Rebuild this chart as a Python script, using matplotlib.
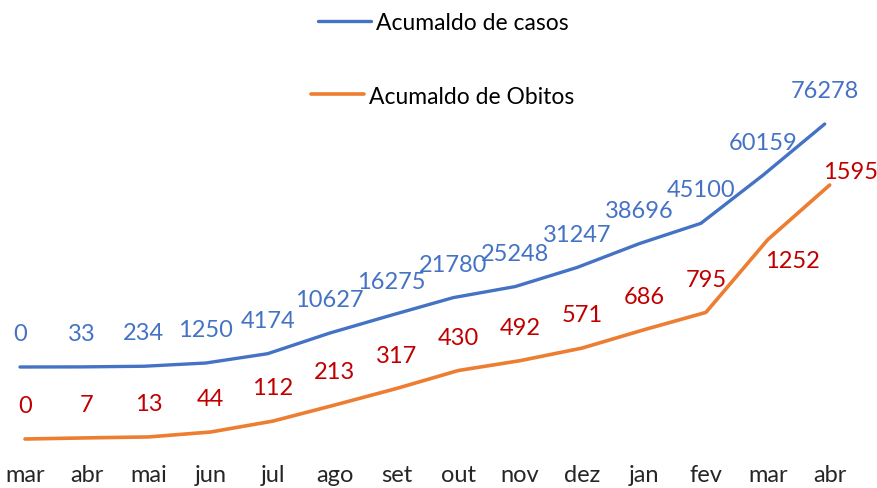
import matplotlib
matplotlib.use("Agg")
import matplotlib.pyplot as plt
import numpy as np

plt.rcParams['font.family'] = ['Lato', 'DejaVu Sans']

months = ["mar", "abr", "mai", "jun", "jul", "ago", "set", "out", "nov",
          "dez", "jan", "fev", "mar", "abr"]
casos = [0, 33, 234, 1250, 4174, 10627, 16275, 21780, 25248, 31247,
         38696, 45100, 60159, 76278]
obitos = [0, 7, 13, 44, 112, 213, 317, 430, 492, 571, 686, 795, 1252, 1595]

W, H, DPI = 878, 489, 100
BLUE = "#4472C4"
ORANGE = "#ED7D31"
RED = "#C00000"

fig = plt.figure(figsize=(W / DPI, H / DPI), dpi=DPI)

# both series share the plot area but each has its own (hidden) value axis
bottom_px = 455
pos = [0, 1 - bottom_px / H, 1, bottom_px / H]
ax_o = fig.add_axes(pos)
ax_c = fig.add_axes(pos)
ax_c.patch.set_alpha(0)

x = np.arange(len(months))
step = 61.9

# orange: first point at 25px, zero at 440px, 1595 at 186px
ax_o.set_xlim(-25 / step, (W - 25) / step)
ax_o.set_ylim(-(bottom_px - 440) / 254 * 1595, 440 / 254 * 1595)
# blue: first point at 20px, zero at 368px, 76278 at 125px
ax_c.set_xlim(-20 / step, (W - 20) / step)
ax_c.set_ylim(-(bottom_px - 368) / 243 * 76278, 368 / 243 * 76278)

l_o, = ax_o.plot(x, obitos, color=ORANGE, lw=2.6, solid_capstyle="round")
l_c, = ax_c.plot(x, casos, color=BLUE, lw=2.4, solid_capstyle="round")

fs = 17
for i, v in enumerate(casos):
    ax_c.annotate(str(v), (i, v), xytext=(0, 24), textcoords="offset points",
                  ha="center", va="center", color=BLUE, fontsize=fs)
for i, v in enumerate(obitos):
    off = (0, 24)
    if i == len(obitos) - 2:
        off = (18, -15)
    elif i == len(obitos) - 1:
        off = (15, 10)
    ax_o.annotate(str(v), (i, v), xytext=off, textcoords="offset points",
                  ha="center", va="center", color=RED, fontsize=fs)

for ax in (ax_o, ax_c):
    for s in ax.spines.values():
        s.set_visible(False)
    ax.set_yticks([])

ax_c.set_xticks([])
ax_o.set_xticks(x)
ax_o.set_xticklabels(months, fontsize=fs, color="#262626")
ax_o.tick_params(axis="x", length=0, pad=7)

fig.legend([l_c], ["Acumaldo de casos"], loc="center left",
           bbox_to_anchor=(318 / W, 1 - 24 / H), frameon=False, fontsize=16.5,
           handlelength=2.3, handletextpad=0.25, borderpad=0, borderaxespad=0)
fig.legend([l_o], ["Acumaldo de Obitos"], loc="center left",
           bbox_to_anchor=(311 / W, 1 - 97 / H), frameon=False, fontsize=16.5,
           handlelength=2.3, handletextpad=0.25, borderpad=0, borderaxespad=0)

fig.savefig("out.png", dpi=DPI)
